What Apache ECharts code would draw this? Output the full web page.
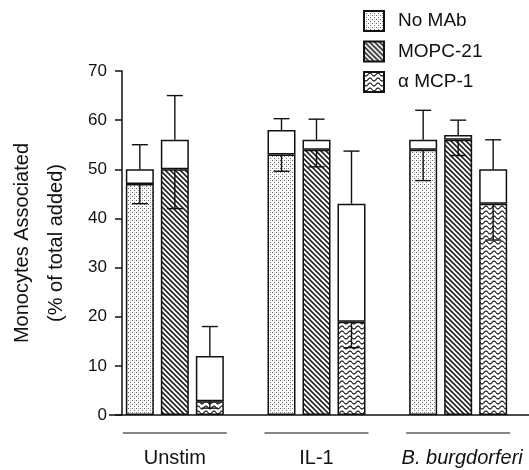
<!DOCTYPE html>
<html>
<head>
<meta charset="utf-8">
<script src="https://cdn.jsdelivr.net/npm/echarts@6/dist/echarts.min.js"></script>
<style>
  html, body { margin: 0; padding: 0; background: #fff; }
  #main { width: 529px; height: 470px; }
</style>
</head>
<body>
<div id="main"></div>
<script>
// categories
var groups = ['Unstim', 'IL-1', 'B. burgdorferi'];
var seriesNames = ['No MAb', 'MOPC-21', 'α MCP-1'];

// lower (patterned) part of each bar
var noMabLow = [47, 53, 54];
var mopcLow = [50, 54, 56];
var mcpLow = [2.8, 19, 43];
// full height (white top) of each bar
var noMabTotal = [50, 58, 56];
var mopcTotal = [56, 56, 57];
var mcpTotal = [12, 43, 50];
// error bar ends, above the total and below the lower part
var noMabErrUp = [55, 60.3, 62];
var mopcErrUp = [65, 60.2, 60];
var mcpErrUp = [18, 53.7, 56];
var noMabErrDown = [43, 49.6, 47.7];
var mopcErrDown = [42, 50.5, 52.8];
var mcpErrDown = [1.4, 13.7, 35.6];

var lows = [noMabLow, mopcLow, mcpLow];
var totals = [noMabTotal, mopcTotal, mcpTotal];
var errUps = [noMabErrUp, mopcErrUp, mcpErrUp];
var errDowns = [noMabErrDown, mopcErrDown, mcpErrDown];

var barW = 28;
var barGapPx = 7;
var font = 'Liberation Sans, Arial, Helvetica, sans-serif';

//填充图案
function makePattern(kind) {
    var c = document.createElement('canvas');
    var ctx = c.getContext('2d');
    if (kind == 'dots') {
        c.width = 4; c.height = 4;
        ctx.fillStyle = '#fff';
        ctx.fillRect(0, 0, 4, 4);
        ctx.fillStyle = '#6a6a6a';
        ctx.fillRect(0, 0, 1, 1);
        ctx.fillRect(2, 2, 1, 1);
        ctx.fillStyle = '#c8c8c8';
        ctx.fillRect(2, 0, 1, 1);
    } else if (kind == 'diag') {
        c.width = 5; c.height = 5;
        ctx.fillStyle = '#fff';
        ctx.fillRect(0, 0, 5, 5);
        ctx.strokeStyle = '#222';
        ctx.lineWidth = 1.6;
        for (var k = -5; k <= 5; k += 5) {
            ctx.beginPath();
            ctx.moveTo(k - 1, -1);
            ctx.lineTo(k + 6, 6);
            ctx.stroke();
        }
    } else {
        c.width = 8; c.height = 5;
        ctx.fillStyle = '#fff';
        ctx.fillRect(0, 0, 8, 5);
        ctx.strokeStyle = '#222';
        ctx.lineWidth = 1.2;
        ctx.beginPath();
        for (var x = 0; x <= 8; x += 0.5) {
            var y = 2.5 + 1.5 * Math.sin(x / 8 * Math.PI * 2);
            if (x == 0) ctx.moveTo(x, y); else ctx.lineTo(x, y);
        }
        ctx.stroke();
    }
    return { image: c, repeat: 'repeat' };
}

var patterns = [makePattern('dots'), makePattern('diag'), makePattern('wave')];

var series = [];
for (var s = 0; s < 3; s++) {
    series.push({
        name: seriesNames[s],
        type: 'bar',
        stack: 's' + s,
        barWidth: barW,
        barGap: (barGapPx / barW * 100) + '%',
        itemStyle: { color: patterns[s], borderColor: '#111', borderWidth: 1.5 },
        data: lows[s],
        z: 2
    });
    series.push({
        name: seriesNames[s] + ' top',
        type: 'bar',
        stack: 's' + s,
        barWidth: barW,
        barGap: (barGapPx / barW * 100) + '%',
        itemStyle: { color: '#fff', borderColor: '#111', borderWidth: 1.5 },
        data: totals[s].map(function (t, i) { return +(t - lows[s][i]).toFixed(2); }),
        z: 2
    });
}

//误差线 [组, 柱, 起点, 终点]
var errData = [];
for (var s = 0; s < 3; s++) {
    for (var g = 0; g < 3; g++) {
        errData.push([g, s, totals[s][g], errUps[s][g]]);
        errData.push([g, s, lows[s][g], errDowns[s][g]]);
    }
}

series.push({
    name: 'err',
    type: 'custom',
    z: 5,
    data: errData,
    renderItem: function (params, api) {
        var p0 = api.coord([api.value(0), api.value(2)]);
        var p1 = api.coord([api.value(0), api.value(3)]);
        var x = p0[0] + (api.value(1) - 1) * (barW + barGapPx);
        var st = { stroke: '#111', lineWidth: 1.4 };
        return {
            type: 'group',
            children: [
                { type: 'line', shape: { x1: x, y1: p0[1], x2: x, y2: p1[1] }, style: st },
                { type: 'line', shape: { x1: x - 8, y1: p1[1], x2: x + 8, y2: p1[1] }, style: st }
            ]
        };
    }
});

//组下方横线
series.push({
    name: 'groupLine',
    type: 'custom',
    clip: false,
    silent: true,
    data: [0, 1, 2],
    renderItem: function (params, api) {
        var p = api.coord([api.value(0), 0]);
        return {
            type: 'line',
            shape: { x1: p[0] - 52, y1: p[1] + 18, x2: p[0] + 52, y2: p[1] + 18 },
            style: { stroke: '#111', lineWidth: 1.2 }
        };
    }
});

var myChart = echarts.init(document.getElementById('main'));
var option = {
    animation: false,
    backgroundColor: '#fff',
    textStyle: { fontFamily: font, color: '#111' },
    grid: { left: 104, right: 0, top: 71, bottom: 55, containLabel: false, outerBoundsMode: 'none' },
    legend: {
        data: seriesNames,
        orient: 'vertical',
        left: 363,
        top: 10,
        padding: 0,
        icon: 'rect',
        itemWidth: 20,
        itemHeight: 20,
        itemGap: 8.5,
        textStyle: { fontSize: 19, fontFamily: font, color: '#111', padding: [0, 0, 0, 9] }
    },
    xAxis: {
        type: 'category',
        data: groups,
        z: 1,
        axisLine: { lineStyle: { color: '#111', width: 1.5 } },
        axisTick: { show: false },
        axisLabel: {
            interval: 0,
            margin: 33,
            fontSize: 20,
            color: '#111',
            fontFamily: font,
            formatter: function (v) {
                return v == 'B. burgdorferi' ? '{it|' + v + '}' : v;
            },
            rich: { it: { fontStyle: 'italic', fontSize: 20, fontFamily: font, color: '#111', padding: [0, 0, 0, 8] } }
        }
    },
    yAxis: {
        type: 'value',
        min: 0,
        max: 70,
        interval: 10,
        offset: -18,
        z: 3,
        name: 'Monocytes Associated\n(% of total added)',
        nameLocation: 'middle',
        nameRotate: 90,
        nameGap: 49,
        nameTextStyle: { fontSize: 20, lineHeight: 34, fontFamily: font, color: '#111' },
        axisLine: { show: true, lineStyle: { color: '#111', width: 1.5 } },
        axisTick: { show: true, length: 7, lineStyle: { color: '#111', width: 1.5 } },
        axisLabel: { fontSize: 17, color: '#111', margin: 13, fontFamily: font, backgroundColor: '#fff', padding: [0, 2, 0, 2] },
        splitLine: { show: false }
    },
    series: series
};
myChart.setOption(option);
</script>
</body>
</html>
